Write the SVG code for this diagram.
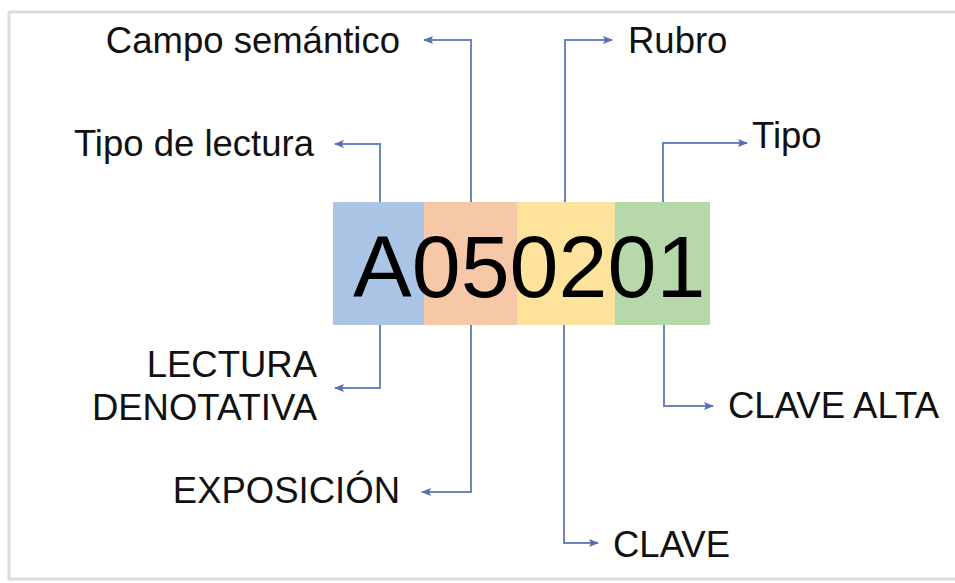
<svg xmlns="http://www.w3.org/2000/svg" width="955" height="583" viewBox="0 0 955 583">
  <style>
    .lbl { font-family: "Liberation Sans", Arial, sans-serif; font-size: 36.5px; fill: #111; }
    .code { font-family: "Liberation Sans", Arial, sans-serif; font-size: 88px; fill: #000; }
    .conn { fill: none; stroke: #6a85bd; stroke-width: 2; }
  </style>
  <defs>
    <marker id="ah" viewBox="0 0 10 10" refX="9" refY="5" markerWidth="10" markerHeight="10" markerUnits="userSpaceOnUse" orient="auto">
      <path d="M0,1 L10,5 L0,9 L2,5 Z" fill="#5570b0"/>
    </marker>
  </defs>
  <rect x="0" y="0" width="955" height="583" fill="#fff"/>
  <rect x="9" y="12" width="960" height="567" fill="#fff" stroke="#dcdcdc" stroke-width="3"/>

  <g id="code">
    <rect x="333" y="202" width="91" height="123" fill="#abc5e6"/>
    <rect x="424" y="202" width="93" height="123" fill="#f7c8a8"/>
    <rect x="517" y="202" width="98" height="123" fill="#fee39c"/>
    <rect x="615" y="202" width="95" height="123" fill="#b7d8aa"/>
    <text class="code" x="353" y="297">A050201</text>
  </g>

  <g id="connectors">
    <path class="conn" d="M471,202 V40 H424" marker-end="url(#ah)"/>
    <path class="conn" d="M565,202 V40 H612" marker-end="url(#ah)"/>
    <path class="conn" d="M380,202 V144 H335" marker-end="url(#ah)"/>
    <path class="conn" d="M663,202 V143 H747" marker-end="url(#ah)"/>
    <path class="conn" d="M380,325 V388 H335" marker-end="url(#ah)"/>
    <path class="conn" d="M471,325 V492 H422" marker-end="url(#ah)"/>
    <path class="conn" d="M564,325 V543 H598" marker-end="url(#ah)"/>
    <path class="conn" d="M664,325 V406 H713" marker-end="url(#ah)"/>
  </g>

  <g id="campo"><text class="lbl" x="400" y="53" text-anchor="end">Campo semántico</text></g>
  <g id="rubro"><text class="lbl" x="628" y="53">Rubro</text></g>
  <g id="tipo-lectura"><text class="lbl" x="314" y="156" text-anchor="end">Tipo de lectura</text></g>
  <g id="tipo"><text class="lbl" x="752" y="148">Tipo</text></g>
  <g id="lectura-denotativa">
    <text class="lbl" x="317" y="377" text-anchor="end">LECTURA</text>
    <text class="lbl" x="317" y="420" text-anchor="end">DENOTATIVA</text>
  </g>
  <g id="exposicion"><text class="lbl" x="400" y="503" text-anchor="end">EXPOSICIÓN</text></g>
  <g id="clave-alta"><text class="lbl" x="728" y="418">CLAVE ALTA</text></g>
  <g id="clave"><text class="lbl" x="613" y="557">CLAVE</text></g>
</svg>
